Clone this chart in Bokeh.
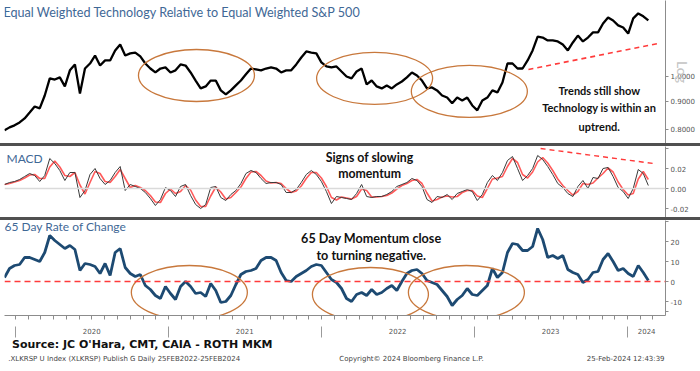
import pandas as pd
from bokeh.plotting import figure
from bokeh.layouts import column
from bokeh.models import Range1d, FixedTicker, LinearAxis, Span, Label, PrintfTickFormatter, Spacer
from bokeh.embed import file_html
from bokeh.resources import INLINE

# ---------------- data ----------------
dates = pd.date_range("2019-12-06", periods=129, freq="12D")

rel = [0.797, 0.807, 0.814, 0.824, 0.838, 0.859, 0.881, 0.874, 0.923, 0.992,
       0.987, 0.996, 0.959, 1.026, 1.052, 0.931, 1.034, 1.056, 1.092, 1.047,
       1.070, 1.070, 1.116, 1.144, 1.092, 1.102, 1.106, 1.088, 1.056, 1.034,
       1.017, 1.034, 1.039, 1.017, 1.026, 1.052, 1.047, 1.017, 0.983, 0.951,
       0.959, 0.983, 0.983, 0.943, 0.927, 0.943, 0.963, 0.983, 1.009, 1.034,
       1.030, 1.026, 1.034, 1.039, 1.034, 1.017, 1.026, 1.026, 1.052, 1.083,
       1.111, 1.106, 1.102, 1.061, 1.043, 1.039, 1.043, 1.021, 1.000, 0.992,
       1.021, 1.034, 0.967, 0.983, 0.959, 0.951, 0.963, 0.951, 0.967, 0.979,
       0.996, 1.017, 1.004, 0.983, 0.951, 0.955, 0.943, 0.923, 0.915, 0.893,
       0.915, 0.904, 0.915, 0.885, 0.867, 0.904, 0.915, 0.943, 0.935, 0.975,
       1.056, 1.056, 1.034, 1.034, 1.070, 1.116, 1.183, 1.178, 1.164, 1.164,
       1.159, 1.144, 1.116, 1.154, 1.188, 1.159, 1.178, 1.204, 1.204, 1.250,
       1.282, 1.266, 1.240, 1.229, 1.198, 1.277, 1.304, 1.288, 1.266]

macd = [0.004, 0.006, 0.007, 0.009, 0.012, 0.015, 0.013, 0.007, 0.013, 0.030,
        0.025, 0.018, 0.008, 0.016, 0.016, -0.009, -0.002, 0.014, 0.020, 0.010,
        0.004, 0.008, 0.016, 0.022, -0.002, 0.004, 0.002, 0.000, -0.004, -0.010,
        -0.017, -0.011, 0.001, -0.002, -0.008, 0.002, 0.004, -0.007, -0.016, -0.020,
        -0.016, 0.001, 0.002, -0.009, -0.012, -0.006, -0.002, 0.005, 0.015, 0.018,
        0.016, 0.010, 0.005, 0.006, 0.006, 0.004, -0.004, -0.004, -0.001, 0.006,
        0.014, 0.018, 0.014, 0.007, -0.003, -0.015, -0.008, -0.009, -0.010, -0.011,
        -0.005, 0.004, -0.008, -0.009, -0.008, -0.008, -0.006, -0.003, 0.002, 0.004,
        0.006, 0.010, 0.008, 0.002, -0.011, -0.014, -0.008, -0.009, -0.006, -0.011,
        -0.005, -0.003, -0.001, -0.003, -0.012, -0.006, 0.006, 0.013, 0.008, 0.016,
        0.028, 0.032, 0.020, 0.008, 0.013, 0.020, 0.033, 0.029, 0.022, 0.014,
        0.005, 0.001, -0.005, -0.008, 0.002, 0.008, 0.000, 0.011, 0.010, 0.020,
        0.021, 0.012, 0.001, -0.003, -0.010, 0.000, 0.019, 0.015, 0.003]

signal = [0.004, 0.005, 0.0065, 0.008, 0.0105, 0.0135, 0.014, 0.010, 0.010, 0.0215,
          0.0275, 0.0215, 0.013, 0.012, 0.016, 0.0035, -0.0055, 0.006, 0.017, 0.015,
          0.007, 0.006, 0.012, 0.019, 0.010, 0.001, 0.003, 0.001, -0.002, -0.007,
          -0.0135, -0.014, -0.005, -0.0005, -0.005, -0.003, 0.003, -0.0015, -0.0115, -0.018,
          -0.018, -0.0075, 0.0015, -0.0035, -0.0105, -0.009, -0.004, 0.0015, 0.010, 0.0165,
          0.017, 0.013, 0.0075, 0.0055, 0.006, 0.005, 0.000, -0.004, -0.0025, 0.0025,
          0.010, 0.016, 0.016, 0.0105, 0.002, -0.009, -0.0115, -0.0085, -0.0095, -0.0105,
          -0.008, -0.0005, -0.002, -0.0085, -0.0085, -0.008, -0.007, -0.0045, -0.0005, 0.003,
          0.005, 0.008, 0.009, 0.005, -0.0045, -0.0125, -0.011, -0.0085, -0.0075, -0.0085,
          -0.008, -0.004, -0.002, -0.002, -0.0075, -0.009, 0.000, 0.0095, 0.0105, 0.012,
          0.022, 0.030, 0.026, 0.014, 0.0105, 0.0165, 0.0265, 0.031, 0.0255, 0.018,
          0.0095, 0.003, -0.002, -0.0065, -0.003, 0.005, 0.004, 0.0055, 0.0105, 0.015,
          0.0205, 0.0165, 0.0065, -0.001, -0.0065, -0.005, 0.0095, 0.017, 0.009]

roc = [2.0, 6.5, 8.0, 8.5, 12.0, 12.0, 11.0, 10.0, 14.5, 23.0,
       20.5, 18.5, 16.5, 18.0, 16.0, 5.5, 9.0, 8.5, 7.5, 4.0,
       9.0, 3.0, 14.5, 16.5, 7.0, 4.0, 2.5, 3.5, -2.0, -4.0,
       -7.0, -8.5, -2.5, -6.0, -9.0, -2.5, 0.0, -2.5, -6.0, -5.5,
       -7.5, -1.0, -4.5, -10.5, -10.0, -7.0, -1.5, 3.5, 5.0, 5.5,
       6.5, 10.5, 12.0, 12.0, 10.5, 4.5, 0.5, 0.0, 2.5, 4.0,
       5.5, 7.5, 8.5, 8.0, 4.5, 1.0, -0.5, -3.5, -8.5, -10.0,
       -6.5, -5.5, -7.0, -4.0, -6.5, -5.5, -3.5, -2.0, -4.5, 0.0,
       4.0, 5.5, 6.0, 4.0, 0.5, -0.5, -1.5, -4.5, -7.5, -12.0,
       -9.0, -7.0, -3.5, -6.5, -7.0, -4.5, -2.0, 6.5, 2.0, 4.5,
       14.5, 19.0, 18.5, 15.5, 15.5, 17.5, 26.5, 21.0, 12.0, 13.0,
       11.5, 13.0, 6.0, 4.5, 3.5, -0.5, 1.0, 4.5, 5.0, 11.0,
       14.0, 10.0, 5.5, 6.5, 4.0, 2.5, 8.0, 4.5, 0.5]

rel_ticks = [0.8, 0.9, 1.0]
macd_ticks = [-0.02, 0.0, 0.02]
macd_minor = [0.04]
roc_ticks = [-10, 0, 10, 20]
roc_minor = [30, -15]
year_labels = ["2020", "2021", "2022", "2023", "2024"]
year_label_dates = ["2020-07-01", "2021-07-01", "2022-07-01", "2023-07-01", "2024-02-15"]
year_starts = ["2020-01-01", "2021-01-01", "2022-01-01", "2023-01-01", "2024-01-01"]

# annotation shapes
ell_top_x = ["2021-03-08", "2022-05-07", "2022-12-19"]
ell_top_y = [1.004, 0.992, 0.939]
ell_roc_x = ["2021-02-19", "2022-04-27", "2022-12-12"]
ell_roc_y = [-5.5, -6.5, -5.5]
trend_top_x = ["2023-05-09", "2024-03-14"]
trend_top_y = [1.030, 1.149]
trend_macd_x = ["2023-06-07", "2024-03-02"]
trend_macd_y = [0.040, 0.025]

# ---------------- styling ----------------
def ms(d):
    return pd.Timestamp(d).value // 10**6

W = 700
AX = "#8c8c8c"
TXT = "#555555"
TITLE = "#3f6896"
ORANGE = "#c8783c"
RED = "#ff3b3b"

xr = Range1d(start=ms("2019-12-06"), end=ms("2024-03-31"))


def panel(h, yr, ytype="linear", bottom=0):
    p = figure(width=W, height=h, x_range=xr, y_range=yr,
               y_axis_type=ytype, x_axis_type="datetime",
               y_axis_location="right", x_axis_location=None,
               toolbar_location=None, output_backend="svg",
               min_border_left=4, min_border_right=35,
               min_border_top=0, min_border_bottom=bottom)
    p.grid.visible = False
    p.outline_line_color = None
    ax = p.yaxis[0]
    ax.axis_line_color = AX
    ax.major_tick_line_color = AX
    ax.minor_tick_line_color = AX
    ax.major_tick_in = 0
    ax.major_tick_out = 3
    ax.minor_tick_in = 0
    ax.minor_tick_out = 3
    ax.major_label_text_font = "DejaVu Sans"
    ax.major_label_text_font_size = "7px"
    ax.major_label_text_color = TXT
    ax.major_label_standoff = 2
    return p


def label(p, x, y, text, size="11px", bold=True, color="#111111",
          align="center", font="Lato", x_offset=0):
    p.add_layout(Label(x=x, y=y, text=text, text_font=font,
                       text_font_size=size,
                       text_font_style="bold" if bold else "normal",
                       text_color=color, text_align=align,
                       text_baseline="middle", x_offset=x_offset))


def separator():
    return Spacer(width=W, height=3, styles={"background-color": "#505050"})


# ---------------- top panel ----------------
p1 = panel(143, Range1d(0.754, 1.377), ytype="log")
p1.yaxis[0].ticker = FixedTicker(ticks=rel_ticks, minor_ticks=[])
p1.yaxis[0].formatter = PrintfTickFormatter(format="%.4f")
p1.yaxis[0].axis_label = "Log"
p1.yaxis[0].axis_label_text_font = "Lato"
p1.yaxis[0].axis_label_text_font_style = "normal"
p1.yaxis[0].axis_label_text_font_size = "14px"
p1.yaxis[0].axis_label_text_color = "#c4c4c4"
p1.yaxis[0].axis_label_standoff = -24
p1.line(dates, rel, line_color="black", line_width=2.3)
p1.ellipse(x=[ms(d) for d in ell_top_x], y=ell_top_y, width=116, height=52,
           width_units="screen", height_units="screen",
           fill_color=None, line_color=ORANGE, line_width=1.3)
p1.line([ms(d) for d in trend_top_x], trend_top_y, line_color=RED,
        line_width=1.6, line_dash="5 4")
label(p1, ms("2019-12-06"), 1.309,
      "Equal Weighted Technology Relative to Equal Weighted S&P 500",
      size="12.6px", bold=False, color=TITLE, align="left", x_offset=-1)
label(p1, ms("2023-10-25"), 0.943, "Trends still show")
label(p1, ms("2023-10-25"), 0.878, "Technology is within an")
label(p1, ms("2023-10-25"), 0.810, "uptrend.")

# ---------------- MACD panel ----------------
p2 = panel(71, Range1d(-0.029, 0.042))
p2.yaxis[0].ticker = FixedTicker(ticks=macd_ticks, minor_ticks=macd_minor)
p2.yaxis[0].formatter = PrintfTickFormatter(format="%.2f")
p2.add_layout(Span(location=0, dimension="width", line_color="#dadada", line_width=1.5))
p2.line(dates, signal, line_color="#ff5a5a", line_width=1.6)
p2.line(dates, macd, line_color="#3a3a3a", line_width=1.0)
p2.line([ms(d) for d in trend_macd_x], trend_macd_y, line_color=RED,
        line_width=1.4, line_dash="5 4")
label(p2, ms("2019-12-06"), 0.030, "MACD", size="12px", bold=False,
      color=TITLE, align="left", x_offset=2)
label(p2, ms("2022-04-25"), 0.031, "Signs of slowing", size="12.3px")
label(p2, ms("2022-04-25"), 0.015, "momentum", size="12.3px")

# ---------------- ROC panel ----------------
p3 = panel(119, Range1d(-17, 30.5), bottom=24)
p3.yaxis[0].ticker = FixedTicker(ticks=roc_ticks, minor_ticks=roc_minor)
p3.yaxis[0].formatter = PrintfTickFormatter(format="%d")
p3.add_layout(Span(location=0, dimension="width", line_color=RED,
                   line_width=1.6, line_dash="6 4"))
p3.line(dates, roc, line_color="#1d4a72", line_width=2.8)
p3.ellipse(x=[ms(d) for d in ell_roc_x], y=ell_roc_y, width=116, height=54,
           width_units="screen", height_units="screen",
           fill_color=None, line_color=ORANGE, line_width=1.3)
label(p3, ms("2019-12-06"), 27.3, "65 Day Rate of Change", size="12px",
      bold=False, color=TITLE, align="left", x_offset=0)
label(p3, ms("2022-04-29"), 21.5, "65 Day Momentum close", size="12.6px")
label(p3, ms("2022-04-29"), 13, "to turning negative.", size="12.6px")

months = [ms(d) for d in pd.date_range("2019-12-01", "2024-03-01", freq="MS")]
ax_m = LinearAxis(ticker=FixedTicker(ticks=[], minor_ticks=months))
ax_m.axis_line_color = AX
ax_m.minor_tick_line_color = AX
ax_m.minor_tick_in = 0
ax_m.minor_tick_out = 4
ax_m.major_tick_out = 0
ax_m.major_label_standoff = 0
ax_m.major_label_text_font_size = "0px"
p3.add_layout(ax_m, "below")

ylab_pos = [ms(d) for d in year_label_dates]
ax_y = LinearAxis(ticker=FixedTicker(ticks=ylab_pos, minor_ticks=[ms(d) for d in year_starts]))
ax_y.axis_line_color = None
ax_y.major_tick_line_color = None
ax_y.major_tick_in = 0
ax_y.major_tick_out = 0
ax_y.minor_tick_line_color = "#9a9a9a"
ax_y.minor_tick_in = -7
ax_y.minor_tick_out = 18
ax_y.major_label_standoff = -10
ax_y.major_label_text_font = "DejaVu Sans"
ax_y.major_label_text_font_size = "7px"
ax_y.major_label_text_color = TXT
ax_y.major_label_overrides = {v: t for v, t in zip(ylab_pos, year_labels)}
p3.add_layout(ax_y, "below")

# ---------------- footer ----------------
FH = 31
ft = figure(width=W, height=FH, x_range=Range1d(0, W),
            y_range=Range1d(0, FH), toolbar_location=None, output_backend="svg",
            x_axis_location=None, y_axis_location=None,
            min_border_left=0, min_border_right=0, min_border_top=0,
            min_border_bottom=0)
ft.outline_line_color = None
ft.grid.visible = False
label(ft, 8, 26, "Source: JC O'Hara, CMT, CAIA - ROTH MKM", size="11px",
      bold=True, color="#111111", align="left", font="DejaVu Sans")
label(ft, 4, 12, ".XLKRSP U Index (XLKRSP) Publish G  Daily 25FEB2022-25FEB2024",
      size="7px", bold=False, color="#444444", align="left", font="DejaVu Sans")
label(ft, 431, 12, "Copyright\u00a9 2024 Bloomberg Finance L.P.", size="7px",
      bold=False, color="#444444", align="center", font="DejaVu Sans")
label(ft, 699, 12, "25-Feb-2024 12:43:39", size="7px", bold=False,
      color="#444444", align="right", font="DejaVu Sans")

layout = column(p1, separator(), p2, separator(), p3, ft)
open("out.html", "w").write(file_html(layout, INLINE))
